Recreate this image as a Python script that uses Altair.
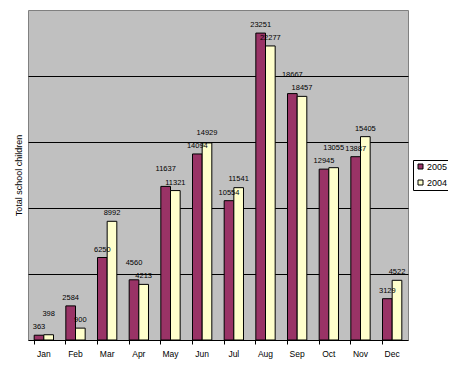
import altair as alt
import pandas as pd

months = ["Jan", "Feb", "Mar", "Apr", "May", "Jun", "Jul", "Aug", "Sep", "Oct", "Nov", "Dec"]
series = ["2005", "2004"]
v2005 = [363, 2584, 6250, 4560, 11637, 14094, 10554, 23251, 18667, 12945, 13887, 3129]
v2004 = [398, 900, 8992, 4213, 11321, 14929, 11541, 22277, 18457, 13055, 15405, 4522]
colors = ["#993366", "#FFFFCC"]
grid_values = [5000, 10000, 15000, 20000]

rows = []
for m, a, b in zip(months, v2005, v2004):
    rows.append({"month": m, "series": "2005", "value": a})
    rows.append({"month": m, "series": "2004", "value": b})
df = pd.DataFrame(rows)

x = alt.X(
    "month:N",
    sort=months,
    scale=alt.Scale(paddingInner=0.39, paddingOuter=0.195),
    axis=alt.Axis(
        title=None, labelAngle=0, bandPosition=0, tickSize=4, tickColor="black",
        domainColor="black", labelFontSize=8.5, labelColor="black", labelPadding=5, grid=False,
    ),
)
xo = alt.XOffset("series:N", sort=series, scale=alt.Scale(domain=series, paddingInner=0, paddingOuter=0))
yscale = alt.Scale(domain=[0, 25000], nice=False)
y = alt.Y(
    "value:Q",
    scale=yscale,
    axis=alt.Axis(
        title="Total school children", values=grid_values, labels=False, ticks=False, domain=False,
        grid=True, gridColor="black", gridOpacity=1, gridWidth=1, titleFontSize=9,
        titleFontWeight="normal", titleColor="black", titlePadding=5,
    ),
)
color = alt.Color(
    "series:N",
    sort=series,
    scale=alt.Scale(domain=series, range=colors),
    legend=alt.Legend(
        title=None, orient="none", legendX=385, legendY=150, strokeColor="black", fillColor="white",
        padding=2, symbolType="square", symbolSize=25, symbolStrokeColor="black", symbolStrokeWidth=1,
        symbolOpacity=1, labelFontSize=9, labelColor="black", rowPadding=6, labelOffset=2,
        symbolOffset=1,
    ),
)

bars = alt.Chart(df).mark_bar(stroke="black", strokeWidth=1, opacity=1).encode(
    x=x, xOffset=xo, y=y, color=color
)
labels = (
    alt.Chart(df)
    .transform_joinaggregate(vmax="max(value)", vmin="min(value)", groupby=["month"])
    .transform_calculate(
        lpos="datum.value == datum.vmax && datum.vmax != datum.vmin ? max(datum.value, datum.vmin + 1000) : datum.value"
    )
    .mark_text(dy=-4, baseline="bottom", fontSize=7.5, color="black")
    .encode(x=x, xOffset=xo, y=alt.Y("lpos:Q", scale=yscale), text=alt.Text("value:Q", format="d"))
)

chart = (
    alt.layer(bars, labels)
    .properties(
        width=380, height=330,
        autosize=alt.AutoSizeParams(type="none"),
        padding={"left": 20, "top": 2, "right": 40, "bottom": 24},
        background="white",
    )
    .configure(font="Liberation Sans")
    .configure_view(stroke="#808080", fill="#C0C0C0")
)

chart.save("out.html", embed_options={"renderer": "svg", "actions": False})
